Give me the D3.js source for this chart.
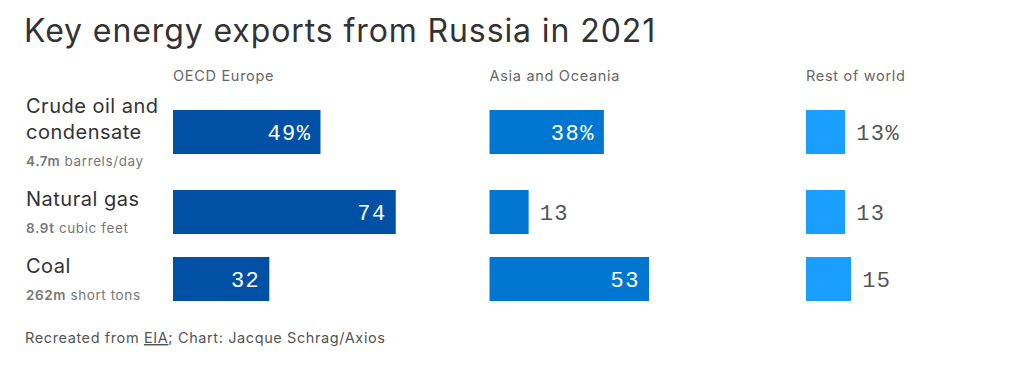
<!DOCTYPE html>
<html>
<head>
<meta charset="utf-8">
<script src="https://cdn.jsdelivr.net/npm/d3@7"></script>
<style>
  body { margin: 0; background: #fff; }
  text { font-family: Inter, "Noto Sans", sans-serif; }
  .val { font-family: "Liberation Mono", "DejaVu Sans Mono", monospace; font-size: 22px; letter-spacing: 1.5px; }
</style>
</head>
<body>
<div id="chart"></div>
<script>
var width = 1024,
    height = 373;

// data
var categories = ['Crude oil and condensate', 'Natural gas', 'Coal'];
var nameLines = [['Crude oil and', 'condensate'], ['Natural gas'], ['Coal']];
var amounts = ['4.7m', '8.9t', '262m'];
var units = ['barrels/day', 'cubic feet', 'short tons'];
var regions = ['OECD Europe', 'Asia and Oceania', 'Rest of world'];
var oecdEurope = [49, 74, 32];
var asiaOceania = [38, 13, 53];
var restOfWorld = [13, 13, 15];
var colors = ['#0050a5', '#0076d1', '#1a9eff'];

var series = [oecdEurope, asiaOceania, restOfWorld];

var svg = d3.select('#chart')
    .append('svg')
    .attr('width', width)
    .attr('height', height);

// title
svg.append('text')
    .attr('x', 24)
    .attr('y', 42)
    .attr('font-size', 32)
    .attr('letter-spacing', '0.9px')
    .attr('fill', '#333')
    .text('Key energy exports from Russia in 2021');

// row layout: each label block is lines*26 + 20 tall, gap 21, bar centred on block
var lineH = 26, gap = 21, barH = 44, top0 = 98;
var blockH = nameLines.map(l => l.length * lineH + 20);
var rowTop = blockH.map((h, i) => top0 + d3.sum(blockH.slice(0, i)) + gap * i);

var x = d3.scaleLinear()
    .domain([0, 100])
    .range([0, 301]);

var col = d3.scaleBand()
    .domain(regions)
    .range([173, 173 + 316.5 * 3]);

// column headers
svg.append('g')
    .selectAll('text')
    .data(regions)
    .enter()
    .append('text')
    .attr('x', d => col(d))
    .attr('y', 81)
    .attr('font-size', 14.5)
    .attr('letter-spacing', '0.7px')
    .attr('fill', '#666')
    .text(d => d);

// category labels
var labels = svg.append('g')
    .selectAll('g')
    .data(categories)
    .enter()
    .append('g')
    .attr('transform', (d, i) => `translate(26, ${rowTop[i]})`);

labels.each(function (d, i) {
    var g = d3.select(this);
    nameLines[i].forEach((ln, j) => {
        g.append('text')
            .attr('y', 15 + j * lineH)
            .attr('font-size', 20)
            .attr('letter-spacing', '0.5px')
            .attr('fill', '#333')
            .text(ln);
    });
    var sub = g.append('text')
        .attr('y', nameLines[i].length * lineH + 16)
        .attr('font-size', 13.5)
        .attr('letter-spacing', '0.6px')
        .attr('fill', '#777');
    sub.append('tspan').attr('font-weight', 600).text(amounts[i]);
    sub.append('tspan').text(' ' + units[i]);
});

// bars
regions.forEach((r, k) => {
    var g = svg.append('g').attr('class', 'col');
    var vals = series[k];
    g.selectAll('rect')
        .data(vals)
        .enter()
        .append('rect')
        .attr('x', col(r))
        .attr('y', (d, i) => rowTop[i] + blockH[i] / 2 - 2 - barH / 2)
        .attr('width', d => x(d))
        .attr('height', barH)
        .attr('fill', colors[k]);

    g.selectAll('.val')
        .data(vals)
        .enter()
        .append('text')
        .attr('class', 'val')
        .attr('x', d => d >= 20 ? col(r) + x(d) - 9 : col(r) + x(d) + 11)
        .attr('y', (d, i) => rowTop[i] + blockH[i] / 2 - 2)
        .attr('dy', '0.35em')
        .attr('text-anchor', d => d >= 20 ? 'end' : 'start')
        .attr('fill', d => d >= 20 ? '#fff' : '#555')
        .text((d, i) => i === 0 ? d + '%' : d);
});

// footer
var foot = svg.append('text')
    .attr('x', 25)
    .attr('y', 343)
    .attr('font-size', 14.5)
    .attr('letter-spacing', '0.6px')
    .attr('fill', '#555');
foot.append('tspan').text('Recreated from ');
foot.append('tspan').attr('text-decoration', 'underline').text('EIA');
foot.append('tspan').text('; Chart: Jacque Schrag/Axios');
</script>
</body>
</html>
